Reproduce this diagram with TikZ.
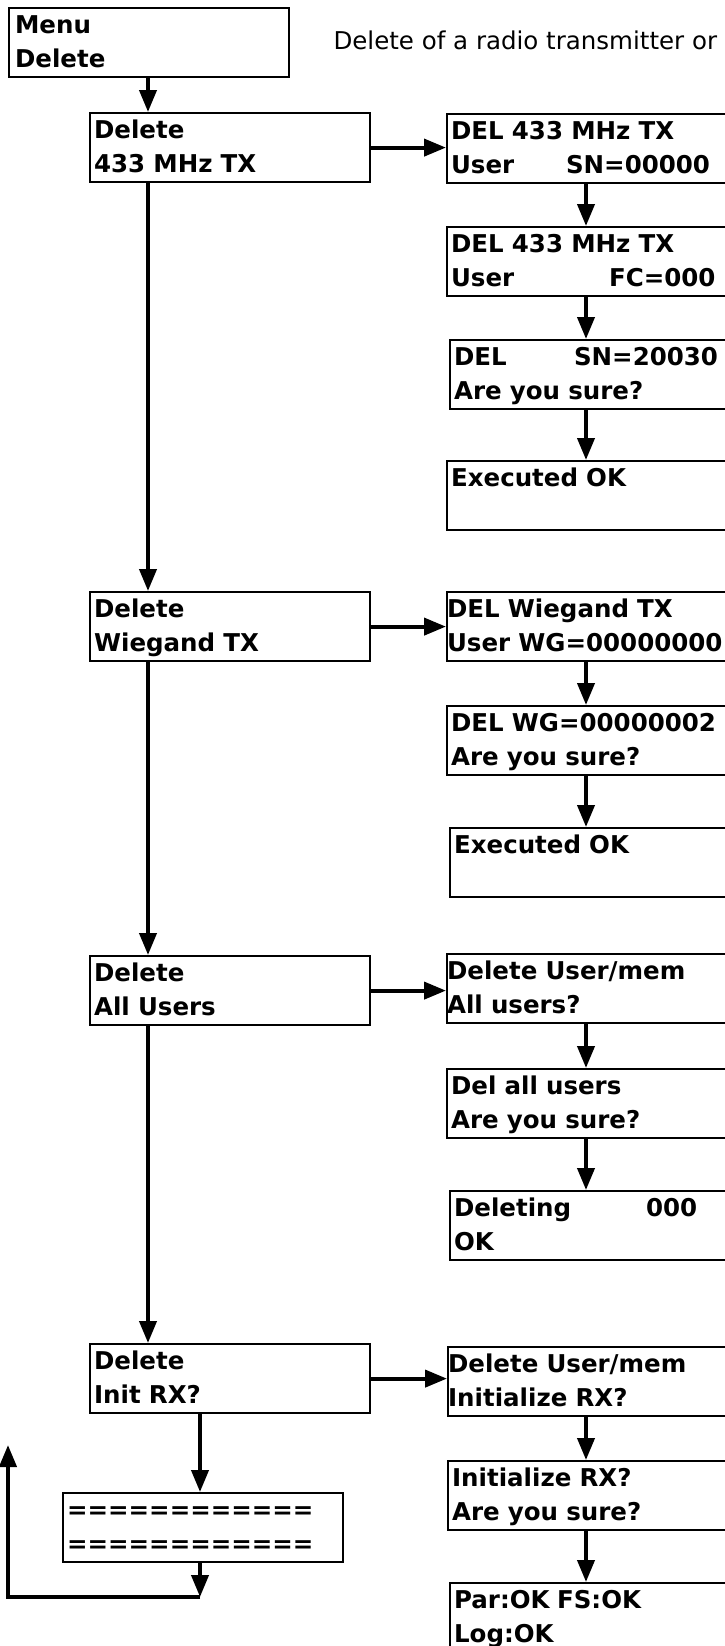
\documentclass[tikz,border=0pt]{standalone}
\usepackage{fontspec}
\newfontfamily\lcdfont{DejaVu Sans}
\usetikzlibrary{arrows.meta}

\tikzset{
  screen/.style={draw, line width=2.2pt, anchor=north west, align=left,
    text width=272pt, inner xsep=4pt, inner ysep=0pt, minimum height=69pt,
    font=\lcdfont\bfseries\fontsize{24.5}{34}\selectfont,
    execute at begin node={\rule{0pt}{25pt}},
    execute at end node={\rule[-10pt]{0pt}{10pt}}},
  screenR/.style={screen, text width=292pt},
  flow/.style={line width=4pt, -{Triangle[length=22pt,width=17pt]}},
}

\begin{document}
\begin{tikzpicture}[x=1pt,y=-1pt]
  \useasboundingbox (0,0) rectangle (725,1646);
  \coordinate (lx) at (148,0);
  \coordinate (ex) at (200,0);
  \coordinate (rx) at (586,0);

  \node[anchor=base west, font=\lcdfont\fontsize{24.5}{30}\selectfont] (title) at (330,49)
    {Delete of a radio transmitter or};

  % left column
  \node[screen, inner xsep=6pt, text width=268pt] (menu) at (8,7) {Menu\\Delete};
  \node[screen] (del433) at (89,112) {Delete\\433 MHz TX};
  \node[screen] (delwg) at (89,591) {Delete\\Wiegand TX};
  \node[screen] (delall) at (89,955) {Delete\\All Users};
  \node[screen] (delinit) at (89,1343) {Delete\\Init RX?};
  \node[screen] (eqs) at (62,1492) {============\\============};

  % right column
  \node[screenR] (tx433) at (446,113) {DEL 433 MHz TX\\\makebox[115pt][l]{User}SN=00000};
  \node[screenR] (fc433) at (446,226) {DEL 433 MHz TX\\\makebox[158pt][l]{User}FC=000};
  \node[screenR] (sure433) at (449,339) {\makebox[120pt][l]{DEL}SN=20030\\Are you sure?};
  \node[screenR] (ok433) at (446,460) {Executed OK\\};
  \node[screenR, inner xsep=0pt] (wgtx) at (446,591) {DEL Wiegand TX\\User WG=00000000};
  \node[screenR] (surewg) at (446,705) {DEL WG=00000002\\Are you sure?};
  \node[screenR] (okwg) at (449,827) {Executed OK\\};
  \node[screenR, inner xsep=0pt] (allusr) at (446,953) {Delete User/mem\\All users?};
  \node[screenR] (sureall) at (446,1068) {Del all users\\Are you sure?};
  \node[screenR] (delng) at (449,1190) {\makebox[192pt][l]{Deleting}000\\OK};
  \node[screenR, inner xsep=0pt] (initrx) at (447,1346) {Delete User/mem\\Initialize RX?};
  \node[screenR] (sureinit) at (447,1460) {Initialize RX?\\Are you sure?};
  \node[screenR] (initok) at (449,1582) {\makebox[103pt][l]{Par:OK}FS:OK\\Log:OK};

  % main line
  \draw[flow] (menu.south -| lx) -- (del433.north -| lx);
  \draw[flow] (del433.south -| lx) -- (delwg.north -| lx);
  \draw[flow] (delwg.south -| lx) -- (delall.north -| lx);
  \draw[flow] (delall.south -| lx) -- (delinit.north -| lx);
  \draw[flow] (delinit.south -| ex) -- (eqs.north -| ex);

  % branches
  \draw[flow] (del433.east) -- (del433.east -| tx433.west);
  \draw[flow] (delwg.east) -- (delwg.east -| wgtx.west);
  \draw[flow] (delall.east) -- (delall.east -| allusr.west);
  \draw[flow] (delinit.east) -- (delinit.east -| initrx.west);

  \draw[flow] (tx433.south -| rx) -- (fc433.north -| rx);
  \draw[flow] (fc433.south -| rx) -- (sure433.north -| rx);
  \draw[flow] (sure433.south -| rx) -- (ok433.north -| rx);
  \draw[flow] (wgtx.south -| rx) -- (surewg.north -| rx);
  \draw[flow] (surewg.south -| rx) -- (okwg.north -| rx);
  \draw[flow] (allusr.south -| rx) -- (sureall.north -| rx);
  \draw[flow] (sureall.south -| rx) -- (delng.north -| rx);
  \draw[flow] (initrx.south -| rx) -- (sureinit.north -| rx);
  \draw[flow] (sureinit.south -| rx) -- (initok.north -| rx);

  % back to menu
  \coordinate (back) at (200,1597);
  \coordinate (ret) at (8,1445);
  \draw[flow] (eqs.south -| ex) -- (back);
  \draw[flow] (back) -| (ret);
\end{tikzpicture}
\end{document}
